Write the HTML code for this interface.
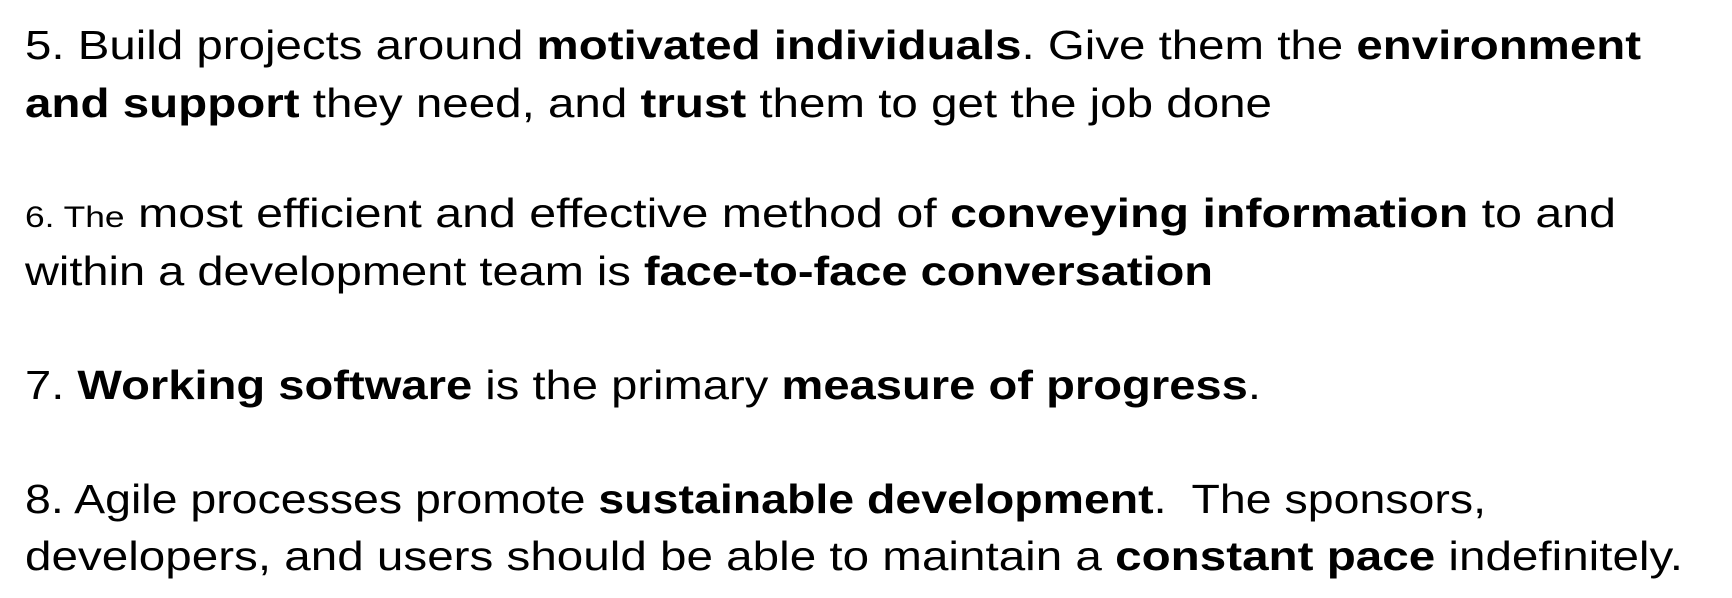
<!DOCTYPE html>
<html><head><meta charset="utf-8"><style>
body{margin:0;width:1732px;height:598px;background:#fff;overflow:hidden;position:relative;font-family:"Liberation Sans",sans-serif;color:#000}
.l{position:absolute;left:25px;font-size:41px;line-height:58px;white-space:nowrap;transform-origin:0 50%}
b{font-weight:bold}
.s{font-size:30px}
</style></head><body>
<div class="l" data-w="1616" style="top:16px">5. Build projects around <b>motivated individuals</b>. Give them the <b>environment</b></div>
<div class="l" data-w="1247" style="top:74px"><b>and support</b> they need, and <b>trust</b> them to get the job done</div>
<div class="l" data-w="1591" style="top:184px"><span class="s">6. The</span> most efficient and effective method of <b>conveying information</b> to and</div>
<div class="l" data-w="1188" style="top:242px">within a development team is <b>face-to-face conversation</b></div>
<div class="l" data-w="1236" style="top:356px">7. <b>Working software</b> is the primary <b>measure of progress</b>.</div>
<div class="l" data-w="1461" style="top:470px">8. Agile processes promote <b>sustainable development</b>.&nbsp; The sponsors,</div>
<div class="l" data-w="1658" style="top:527px">developers, and users should be able to maintain a <b>constant pace</b> indefinitely.</div>
<script>
document.querySelectorAll('.l').forEach(function(el){
  var w=el.getBoundingClientRect().width;
  var t=+el.getAttribute('data-w');
  el.style.transform='scaleX('+(t/w)+')';
});
</script>
</body></html>
